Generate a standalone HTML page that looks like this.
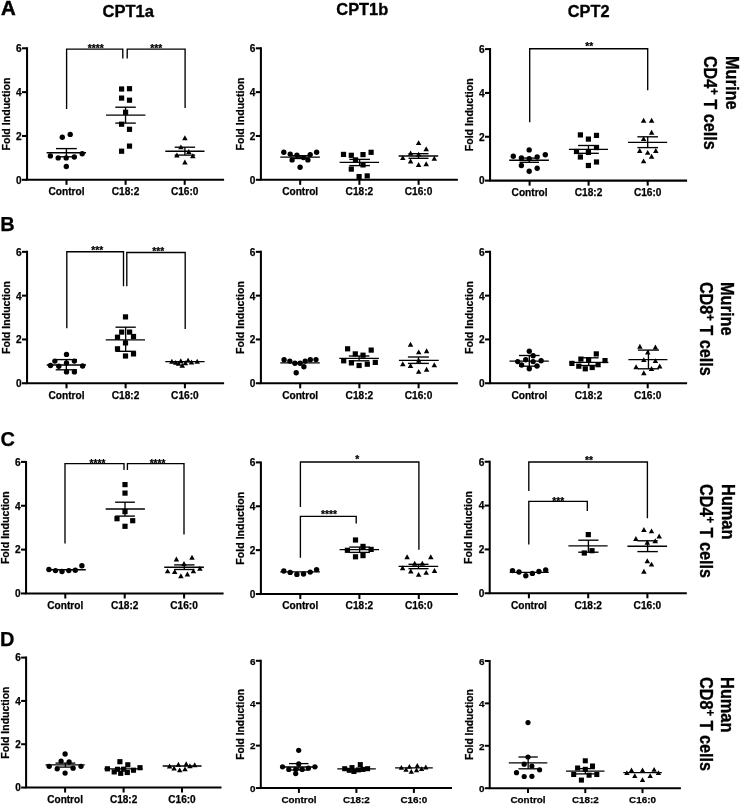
<!DOCTYPE html>
<html><head><meta charset="utf-8"><title>Figure</title>
<style>html,body{margin:0;padding:0;background:#fff}body{width:740px;height:804px;overflow:hidden}svg{display:block;filter:grayscale(1)}</style>
</head><body>
<svg width="740" height="804" viewBox="0 0 740 804">
<rect width="740" height="804" fill="#fff"/>
<g stroke="#000" fill="none" stroke-linecap="butt">
<path d="M27.05 47.27L27.05 179.8L224.1 179.8" stroke-width="2.05" stroke-linejoin="miter"/>
<path d="M22 179.8L27.05 179.8" stroke-width="2.05"/>
<path d="M22 135.97L27.05 135.97" stroke-width="2.05"/>
<path d="M22 92.13L27.05 92.13" stroke-width="2.05"/>
<path d="M22 48.3L27.05 48.3" stroke-width="2.05"/>
<path d="M66.5 179.8L66.5 184.85" stroke-width="2.05"/>
<path d="M125.6 179.8L125.6 184.85" stroke-width="2.05"/>
<path d="M184.7 179.8L184.7 184.85" stroke-width="2.05"/>
<path d="M46.6 152.7L86 152.7" stroke-width="1.35"/>
<path d="M56 148.6L76.8 148.6" stroke-width="1.35"/>
<path d="M56 156.8L76.8 156.8" stroke-width="1.35"/>
<path d="M66.4 148.6L66.4 156.8" stroke-width="1.35"/>
<path d="M106 115.1L145.4 115.1" stroke-width="1.35"/>
<path d="M115.3 107.2L135.8 107.2" stroke-width="1.35"/>
<path d="M115.3 123.1L135.8 123.1" stroke-width="1.35"/>
<path d="M125.55 107.2L125.55 123.1" stroke-width="1.35"/>
<path d="M165.3 151.2L204.5 151.2" stroke-width="1.35"/>
<path d="M174.7 147.2L195.1 147.2" stroke-width="1.35"/>
<path d="M174.7 155.1L195.1 155.1" stroke-width="1.35"/>
<path d="M184.9 147.2L184.9 155.1" stroke-width="1.35"/>
<path d="M66.6 108.9L66.6 49.1L122.8 49.1L122.8 58.4" stroke-width="1.35" stroke-linejoin="miter"/>
<path d="M127.2 58.4L127.2 49.1L185.1 49.1L185.1 108" stroke-width="1.35" stroke-linejoin="miter"/>
</g>
<g fill="#000">
<circle cx="62.3" cy="137.3" r="2.68"/>
<circle cx="70.2" cy="134.4" r="2.68"/>
<circle cx="50.4" cy="155.9" r="2.68"/>
<circle cx="58.2" cy="157.9" r="2.68"/>
<circle cx="66.2" cy="157.9" r="2.68"/>
<circle cx="74.3" cy="157" r="2.68"/>
<circle cx="82.2" cy="153.7" r="2.68"/>
<circle cx="66.3" cy="166.5" r="2.68"/>
<rect x="119" y="86.4" width="5.2" height="5.2"/>
<rect x="126.9" y="86.1" width="5.2" height="5.2"/>
<rect x="119" y="95.5" width="5.2" height="5.2"/>
<rect x="126.9" y="97.6" width="5.2" height="5.2"/>
<rect x="123" y="109.7" width="5.2" height="5.2"/>
<rect x="119" y="121.6" width="5.2" height="5.2"/>
<rect x="126.9" y="126.7" width="5.2" height="5.2"/>
<rect x="126.9" y="143.5" width="5.2" height="5.2"/>
<rect x="119" y="148.6" width="5.2" height="5.2"/>
<path d="M184.9 135.35L187.65 140.25L182.15 140.25Z"/>
<path d="M180.9 144.45L183.65 149.35L178.15 149.35Z"/>
<path d="M188.8 149.05L191.55 153.95L186.05 153.95Z"/>
<path d="M176.9 152.55L179.65 157.45L174.15 157.45Z"/>
<path d="M192.8 153.25L195.55 158.15L190.05 158.15Z"/>
<path d="M184.9 159.55L187.65 164.45L182.15 164.45Z"/>
</g>
<g font-family='"Liberation Sans", sans-serif' font-weight="700" fill="#000" stroke="#000" stroke-width="0.25" font-size="10.15">
<text x="21.65" y="183.65" text-anchor="end">0</text>
<text x="21.65" y="139.82" text-anchor="end">2</text>
<text x="21.65" y="95.99" text-anchor="end">4</text>
<text x="21.65" y="52.15" text-anchor="end">6</text>
<text x="66.5" y="195.05" text-anchor="middle">Control</text>
<text x="125.6" y="195.05" text-anchor="middle">C18:2</text>
<text x="184.7" y="195.05" text-anchor="middle">C16:0</text>
<text transform="translate(9.75 150.5) rotate(-90)" font-size="11.3" textLength="72.9" lengthAdjust="spacingAndGlyphs">Fold Induction</text>
<text x="95.7" y="52.4" font-size="10.2" text-anchor="middle">****</text>
<text x="156.2" y="52.4" font-size="10.2" text-anchor="middle">***</text>
</g>
<g stroke="#000" fill="none" stroke-linecap="butt">
<path d="M260.9 47.27L260.9 179.8L457.9 179.8" stroke-width="2.05" stroke-linejoin="miter"/>
<path d="M255.85 179.8L260.9 179.8" stroke-width="2.05"/>
<path d="M255.85 135.97L260.9 135.97" stroke-width="2.05"/>
<path d="M255.85 92.13L260.9 92.13" stroke-width="2.05"/>
<path d="M255.85 48.3L260.9 48.3" stroke-width="2.05"/>
<path d="M300.2 179.8L300.2 184.85" stroke-width="2.05"/>
<path d="M359.4 179.8L359.4 184.85" stroke-width="2.05"/>
<path d="M418.6 179.8L418.6 184.85" stroke-width="2.05"/>
<path d="M280.3 157.1L319.9 157.1" stroke-width="1.35"/>
<path d="M290 155.7L310 155.7" stroke-width="1.35"/>
<path d="M290 158.5L310 158.5" stroke-width="1.35"/>
<path d="M300 155.7L300 158.5" stroke-width="1.35"/>
<path d="M339.6 162.4L379.1 162.4" stroke-width="1.35"/>
<path d="M349.3 159.4L369.9 159.4" stroke-width="1.35"/>
<path d="M349.3 165.6L369.9 165.6" stroke-width="1.35"/>
<path d="M359.6 159.4L359.6 165.6" stroke-width="1.35"/>
<path d="M398.6 156L438.2 156" stroke-width="1.35"/>
<path d="M408.5 153.7L428.5 153.7" stroke-width="1.35"/>
<path d="M408.5 158.3L428.5 158.3" stroke-width="1.35"/>
<path d="M418.5 153.7L418.5 158.3" stroke-width="1.35"/>
</g>
<g fill="#000">
<circle cx="283.8" cy="152.3" r="2.68"/>
<circle cx="316.6" cy="152.3" r="2.68"/>
<circle cx="290.2" cy="154.1" r="2.68"/>
<circle cx="296.9" cy="155.3" r="2.68"/>
<circle cx="310.2" cy="154.6" r="2.68"/>
<circle cx="303.5" cy="157.6" r="2.68"/>
<circle cx="292.1" cy="159.9" r="2.68"/>
<circle cx="307.9" cy="159.9" r="2.68"/>
<circle cx="300.1" cy="167.2" r="2.68"/>
<rect x="340.9" y="151.8" width="5.2" height="5.2"/>
<rect x="348.7" y="152.7" width="5.2" height="5.2"/>
<rect x="360.4" y="152" width="5.2" height="5.2"/>
<rect x="368.5" y="149.7" width="5.2" height="5.2"/>
<rect x="352.9" y="157.3" width="5.2" height="5.2"/>
<rect x="360.4" y="162.3" width="5.2" height="5.2"/>
<rect x="348.7" y="166.5" width="5.2" height="5.2"/>
<rect x="356.5" y="174" width="5.2" height="5.2"/>
<rect x="364.6" y="173.3" width="5.2" height="5.2"/>
<path d="M418.6 140.15L421.35 145.05L415.85 145.05Z"/>
<path d="M426.2 146.35L428.95 151.25L423.45 151.25Z"/>
<path d="M410.6 150.55L413.35 155.45L407.85 155.45Z"/>
<path d="M418.6 151.65L421.35 156.55L415.85 156.55Z"/>
<path d="M402.8 155.15L405.55 160.05L400.05 160.05Z"/>
<path d="M434.3 155.85L437.05 160.75L431.55 160.75Z"/>
<path d="M410.6 158.55L413.35 163.45L407.85 163.45Z"/>
<path d="M418.6 162.05L421.35 166.95L415.85 166.95Z"/>
<path d="M426.2 161.35L428.95 166.25L423.45 166.25Z"/>
</g>
<g font-family='"Liberation Sans", sans-serif' font-weight="700" fill="#000" stroke="#000" stroke-width="0.25" font-size="10.15">
<text x="255.5" y="183.65" text-anchor="end">0</text>
<text x="255.5" y="139.82" text-anchor="end">2</text>
<text x="255.5" y="95.99" text-anchor="end">4</text>
<text x="255.5" y="52.15" text-anchor="end">6</text>
<text x="300.2" y="195.05" text-anchor="middle">Control</text>
<text x="359.4" y="195.05" text-anchor="middle">C18:2</text>
<text x="418.6" y="195.05" text-anchor="middle">C16:0</text>
<text transform="translate(243.6 150.5) rotate(-90)" font-size="11.3" textLength="72.9" lengthAdjust="spacingAndGlyphs">Fold Induction</text>
</g>
<g stroke="#000" fill="none" stroke-linecap="butt">
<path d="M490.05 48.08L490.05 180.6L687.1 180.6" stroke-width="2.05" stroke-linejoin="miter"/>
<path d="M485 180.6L490.05 180.6" stroke-width="2.05"/>
<path d="M485 136.77L490.05 136.77" stroke-width="2.05"/>
<path d="M485 92.93L490.05 92.93" stroke-width="2.05"/>
<path d="M485 49.1L490.05 49.1" stroke-width="2.05"/>
<path d="M529.6 180.6L529.6 185.65" stroke-width="2.05"/>
<path d="M588.6 180.6L588.6 185.65" stroke-width="2.05"/>
<path d="M647.7 180.6L647.7 185.65" stroke-width="2.05"/>
<path d="M509.2 160.2L548.9 160.2" stroke-width="1.35"/>
<path d="M519.5 158.1L539 158.1" stroke-width="1.35"/>
<path d="M519.5 162.3L539 162.3" stroke-width="1.35"/>
<path d="M529.25 158.1L529.25 162.3" stroke-width="1.35"/>
<path d="M568.9 149.4L608 149.4" stroke-width="1.35"/>
<path d="M578.1 145.5L598.8 145.5" stroke-width="1.35"/>
<path d="M578.1 153.3L598.8 153.3" stroke-width="1.35"/>
<path d="M588.45 145.5L588.45 153.3" stroke-width="1.35"/>
<path d="M628 142.3L667.2 142.3" stroke-width="1.35"/>
<path d="M637.4 136.8L658 136.8" stroke-width="1.35"/>
<path d="M637.4 147.6L658 147.6" stroke-width="1.35"/>
<path d="M647.7 136.8L647.7 147.6" stroke-width="1.35"/>
<path d="M529.7 122.2L529.7 48.7L647.7 48.7L647.7 90.2" stroke-width="1.35" stroke-linejoin="miter"/>
</g>
<g fill="#000">
<circle cx="529.2" cy="149.9" r="2.68"/>
<circle cx="545.3" cy="154.7" r="2.68"/>
<circle cx="513.3" cy="156.3" r="2.68"/>
<circle cx="521.4" cy="157.9" r="2.68"/>
<circle cx="537.2" cy="157" r="2.68"/>
<circle cx="529.2" cy="158.6" r="2.68"/>
<circle cx="521.4" cy="165.5" r="2.68"/>
<circle cx="529.2" cy="171.2" r="2.68"/>
<circle cx="537.2" cy="168.2" r="2.68"/>
<rect x="577.8" y="132.3" width="5.2" height="5.2"/>
<rect x="593.9" y="132.8" width="5.2" height="5.2"/>
<rect x="585.8" y="136.5" width="5.2" height="5.2"/>
<rect x="593.9" y="145" width="5.2" height="5.2"/>
<rect x="573.9" y="148.9" width="5.2" height="5.2"/>
<rect x="585.8" y="149.8" width="5.2" height="5.2"/>
<rect x="577.8" y="154.4" width="5.2" height="5.2"/>
<rect x="593.9" y="159.4" width="5.2" height="5.2"/>
<rect x="585.8" y="162.9" width="5.2" height="5.2"/>
<path d="M643.6 117.75L646.35 122.65L640.85 122.65Z"/>
<path d="M651.6 117.75L654.35 122.65L648.85 122.65Z"/>
<path d="M651.6 129.75L654.35 134.65L648.85 134.65Z"/>
<path d="M643.6 136.15L646.35 141.05L640.85 141.05Z"/>
<path d="M639.7 148.05L642.45 152.95L636.95 152.95Z"/>
<path d="M647.7 149.95L650.45 154.85L644.95 154.85Z"/>
<path d="M655.8 148.05L658.55 152.95L653.05 152.95Z"/>
<path d="M651.6 153.85L654.35 158.75L648.85 158.75Z"/>
<path d="M643.6 158.45L646.35 163.35L640.85 163.35Z"/>
</g>
<g font-family='"Liberation Sans", sans-serif' font-weight="700" fill="#000" stroke="#000" stroke-width="0.25" font-size="10.15">
<text x="484.65" y="184.45" text-anchor="end">0</text>
<text x="484.65" y="140.62" text-anchor="end">2</text>
<text x="484.65" y="96.79" text-anchor="end">4</text>
<text x="484.65" y="52.95" text-anchor="end">6</text>
<text x="529.6" y="195.85" text-anchor="middle">Control</text>
<text x="588.6" y="195.85" text-anchor="middle">C18:2</text>
<text x="647.7" y="195.85" text-anchor="middle">C16:0</text>
<text transform="translate(472.75 151.3) rotate(-90)" font-size="11.3" textLength="72.9" lengthAdjust="spacingAndGlyphs">Fold Induction</text>
<text x="589.3" y="49.8" font-size="10.2" text-anchor="middle">**</text>
</g>
<g stroke="#000" fill="none" stroke-linecap="butt">
<path d="M27.05 250.82L27.05 383.25L224.1 383.25" stroke-width="2.05" stroke-linejoin="miter"/>
<path d="M22 383.25L27.05 383.25" stroke-width="2.05"/>
<path d="M22 339.45L27.05 339.45" stroke-width="2.05"/>
<path d="M22 295.65L27.05 295.65" stroke-width="2.05"/>
<path d="M22 251.85L27.05 251.85" stroke-width="2.05"/>
<path d="M66.5 383.25L66.5 388.3" stroke-width="2.05"/>
<path d="M125.6 383.25L125.6 388.3" stroke-width="2.05"/>
<path d="M184.9 383.25L184.9 388.3" stroke-width="2.05"/>
<path d="M46.7 365L86 365" stroke-width="1.35"/>
<path d="M55.7 359.6L77 359.6" stroke-width="1.35"/>
<path d="M55.7 369.8L77 369.8" stroke-width="1.35"/>
<path d="M66.35 359.6L66.35 369.8" stroke-width="1.35"/>
<path d="M105.7 339.8L145 339.8" stroke-width="1.35"/>
<path d="M115.5 327.2L135.8 327.2" stroke-width="1.35"/>
<path d="M115.5 351.3L135.8 351.3" stroke-width="1.35"/>
<path d="M125.65 327.2L125.65 351.3" stroke-width="1.35"/>
<path d="M165.3 361.6L204.6 361.6" stroke-width="1.35"/>
<path d="M66.8 328.2L66.8 251.7L123.5 251.7L123.5 286.2" stroke-width="1.35" stroke-linejoin="miter"/>
<path d="M126.8 286.2L126.8 252.5L185.2 252.5L185.2 329" stroke-width="1.35" stroke-linejoin="miter"/>
</g>
<g fill="#000">
<circle cx="66.5" cy="354.4" r="2.68"/>
<circle cx="54.9" cy="361.1" r="2.68"/>
<circle cx="74.4" cy="361.1" r="2.68"/>
<circle cx="66.5" cy="362.9" r="2.68"/>
<circle cx="50.5" cy="365.5" r="2.68"/>
<circle cx="58.8" cy="366.2" r="2.68"/>
<circle cx="82.6" cy="366" r="2.68"/>
<circle cx="66.5" cy="371.9" r="2.68"/>
<circle cx="74.4" cy="371.9" r="2.68"/>
<rect x="122.9" y="314.3" width="5.2" height="5.2"/>
<rect x="119.1" y="329.5" width="5.2" height="5.2"/>
<rect x="127" y="329.5" width="5.2" height="5.2"/>
<rect x="114.9" y="334.6" width="5.2" height="5.2"/>
<rect x="130.9" y="333.9" width="5.2" height="5.2"/>
<rect x="122.9" y="340.3" width="5.2" height="5.2"/>
<rect x="114.9" y="346.2" width="5.2" height="5.2"/>
<rect x="130.9" y="351.3" width="5.2" height="5.2"/>
<rect x="122.9" y="353.4" width="5.2" height="5.2"/>
<path d="M171.9 358.85L174.65 363.75L169.15 363.75Z"/>
<path d="M175.7 359.95L178.45 364.85L172.95 364.85Z"/>
<path d="M180.8 358.35L183.55 363.25L178.05 363.25Z"/>
<path d="M178.5 360.75L181.25 365.65L175.75 365.65Z"/>
<path d="M182.2 362.75L184.95 367.65L179.45 367.65Z"/>
<path d="M185.4 360.35L188.15 365.25L182.65 365.25Z"/>
<path d="M188.1 357.65L190.85 362.55L185.35 362.55Z"/>
<path d="M191.5 359.55L194.25 364.45L188.75 364.45Z"/>
<path d="M197.2 358.85L199.95 363.75L194.45 363.75Z"/>
</g>
<g font-family='"Liberation Sans", sans-serif' font-weight="700" fill="#000" stroke="#000" stroke-width="0.25" font-size="10.15">
<text x="21.65" y="387.1" text-anchor="end">0</text>
<text x="21.65" y="343.3" text-anchor="end">2</text>
<text x="21.65" y="299.5" text-anchor="end">4</text>
<text x="21.65" y="255.7" text-anchor="end">6</text>
<text x="66.5" y="398.5" text-anchor="middle">Control</text>
<text x="125.6" y="398.5" text-anchor="middle">C18:2</text>
<text x="184.9" y="398.5" text-anchor="middle">C16:0</text>
<text transform="translate(9.75 354) rotate(-90)" font-size="11.3" textLength="72.9" lengthAdjust="spacingAndGlyphs">Fold Induction</text>
<text x="97.3" y="254.1" font-size="10.2" text-anchor="middle">***</text>
<text x="158.3" y="254.5" font-size="10.2" text-anchor="middle">***</text>
</g>
<g stroke="#000" fill="none" stroke-linecap="butt">
<path d="M260.9 250.82L260.9 383.25L457.9 383.25" stroke-width="2.05" stroke-linejoin="miter"/>
<path d="M255.85 383.25L260.9 383.25" stroke-width="2.05"/>
<path d="M255.85 339.45L260.9 339.45" stroke-width="2.05"/>
<path d="M255.85 295.65L260.9 295.65" stroke-width="2.05"/>
<path d="M255.85 251.85L260.9 251.85" stroke-width="2.05"/>
<path d="M300.2 383.25L300.2 388.3" stroke-width="2.05"/>
<path d="M359.4 383.25L359.4 388.3" stroke-width="2.05"/>
<path d="M418.6 383.25L418.6 388.3" stroke-width="2.05"/>
<path d="M280.3 362.9L319.8 362.9" stroke-width="1.35"/>
<path d="M339.3 358.3L378.9 358.3" stroke-width="1.35"/>
<path d="M348.8 356L369.4 356" stroke-width="1.35"/>
<path d="M348.8 360.8L369.4 360.8" stroke-width="1.35"/>
<path d="M359.1 356L359.1 360.8" stroke-width="1.35"/>
<path d="M398.9 360.3L438.7 360.3" stroke-width="1.35"/>
<path d="M407.9 357L428.9 357" stroke-width="1.35"/>
<path d="M407.9 363.4L428.9 363.4" stroke-width="1.35"/>
<path d="M418.4 357L418.4 363.4" stroke-width="1.35"/>
</g>
<g fill="#000">
<circle cx="284.1" cy="359.8" r="2.68"/>
<circle cx="289.8" cy="361.1" r="2.68"/>
<circle cx="294.9" cy="363.2" r="2.68"/>
<circle cx="300.1" cy="363.2" r="2.68"/>
<circle cx="305.2" cy="361.1" r="2.68"/>
<circle cx="310.3" cy="359.8" r="2.68"/>
<circle cx="316" cy="359.6" r="2.68"/>
<circle cx="303.9" cy="366.8" r="2.68"/>
<circle cx="296.2" cy="372.7" r="2.68"/>
<rect x="345" y="346.2" width="5.2" height="5.2"/>
<rect x="368.6" y="347.5" width="5.2" height="5.2"/>
<rect x="352.7" y="351.3" width="5.2" height="5.2"/>
<rect x="360.4" y="352.6" width="5.2" height="5.2"/>
<rect x="341.1" y="358.2" width="5.2" height="5.2"/>
<rect x="348.8" y="360.3" width="5.2" height="5.2"/>
<rect x="372.7" y="359.8" width="5.2" height="5.2"/>
<rect x="364.7" y="361.6" width="5.2" height="5.2"/>
<rect x="356.5" y="362.9" width="5.2" height="5.2"/>
<path d="M410.5 341.75L413.25 346.65L407.75 346.65Z"/>
<path d="M418.7 349.45L421.45 354.35L415.95 354.35Z"/>
<path d="M426.6 348.35L429.35 353.25L423.85 353.25Z"/>
<path d="M402.8 361.25L405.55 366.15L400.05 366.15Z"/>
<path d="M410.5 363.05L413.25 367.95L407.75 367.95Z"/>
<path d="M434.3 362.25L437.05 367.15L431.55 367.15Z"/>
<path d="M426.6 366.85L429.35 371.75L423.85 371.75Z"/>
<path d="M418.7 368.95L421.45 373.85L415.95 373.85Z"/>
<path d="M418.7 357.85L421.45 362.75L415.95 362.75Z"/>
</g>
<g font-family='"Liberation Sans", sans-serif' font-weight="700" fill="#000" stroke="#000" stroke-width="0.25" font-size="10.15">
<text x="255.5" y="387.1" text-anchor="end">0</text>
<text x="255.5" y="343.3" text-anchor="end">2</text>
<text x="255.5" y="299.5" text-anchor="end">4</text>
<text x="255.5" y="255.7" text-anchor="end">6</text>
<text x="300.2" y="398.5" text-anchor="middle">Control</text>
<text x="359.4" y="398.5" text-anchor="middle">C18:2</text>
<text x="418.6" y="398.5" text-anchor="middle">C16:0</text>
<text transform="translate(243.6 354) rotate(-90)" font-size="11.3" textLength="72.9" lengthAdjust="spacingAndGlyphs">Fold Induction</text>
</g>
<g stroke="#000" fill="none" stroke-linecap="butt">
<path d="M490.05 250.82L490.05 383.25L687.1 383.25" stroke-width="2.05" stroke-linejoin="miter"/>
<path d="M485 383.25L490.05 383.25" stroke-width="2.05"/>
<path d="M485 339.45L490.05 339.45" stroke-width="2.05"/>
<path d="M485 295.65L490.05 295.65" stroke-width="2.05"/>
<path d="M485 251.85L490.05 251.85" stroke-width="2.05"/>
<path d="M529.4 383.25L529.4 388.3" stroke-width="2.05"/>
<path d="M588.6 383.25L588.6 388.3" stroke-width="2.05"/>
<path d="M647.7 383.25L647.7 388.3" stroke-width="2.05"/>
<path d="M509.5 361.1L548.8 361.1" stroke-width="1.35"/>
<path d="M519 355.5L539.6 355.5" stroke-width="1.35"/>
<path d="M519 366.2L539.6 366.2" stroke-width="1.35"/>
<path d="M529.3 355.5L529.3 366.2" stroke-width="1.35"/>
<path d="M569.3 362.4L608.4 362.4" stroke-width="1.35"/>
<path d="M578.8 357.8L598.6 357.8" stroke-width="1.35"/>
<path d="M578.8 365.5L598.6 365.5" stroke-width="1.35"/>
<path d="M588.7 357.8L588.7 365.5" stroke-width="1.35"/>
<path d="M628.4 359.6L667.4 359.6" stroke-width="1.35"/>
<path d="M637.9 350.1L659 350.1" stroke-width="1.35"/>
<path d="M637.9 368.8L659 368.8" stroke-width="1.35"/>
<path d="M648.45 350.1L648.45 368.8" stroke-width="1.35"/>
</g>
<g fill="#000">
<circle cx="529.3" cy="351.3" r="2.68"/>
<circle cx="533.1" cy="355.7" r="2.68"/>
<circle cx="525.7" cy="359.8" r="2.68"/>
<circle cx="517.7" cy="361.6" r="2.68"/>
<circle cx="541.1" cy="360.8" r="2.68"/>
<circle cx="533.1" cy="361.6" r="2.68"/>
<circle cx="521.6" cy="365" r="2.68"/>
<circle cx="537" cy="366" r="2.68"/>
<circle cx="529.3" cy="368.8" r="2.68"/>
<rect x="593.7" y="351.3" width="5.2" height="5.2"/>
<rect x="578.3" y="356.5" width="5.2" height="5.2"/>
<rect x="586" y="357.2" width="5.2" height="5.2"/>
<rect x="602.4" y="358" width="5.2" height="5.2"/>
<rect x="569.3" y="360.8" width="5.2" height="5.2"/>
<rect x="595.5" y="362.1" width="5.2" height="5.2"/>
<rect x="576.2" y="363.6" width="5.2" height="5.2"/>
<rect x="589.6" y="364.9" width="5.2" height="5.2"/>
<rect x="582.7" y="366.2" width="5.2" height="5.2"/>
<path d="M639.9 343.75L642.65 348.65L637.15 348.65Z"/>
<path d="M655.4 344.55L658.15 349.45L652.65 349.45Z"/>
<path d="M647.7 349.65L650.45 354.55L644.95 354.55Z"/>
<path d="M643.8 357.15L646.55 362.05L641.05 362.05Z"/>
<path d="M655.4 358.15L658.15 363.05L652.65 363.05Z"/>
<path d="M659.7 363.55L662.45 368.45L656.95 368.45Z"/>
<path d="M636.1 364.35L638.85 369.25L633.35 369.25Z"/>
<path d="M651.5 366.05L654.25 370.95L648.75 370.95Z"/>
<path d="M643.8 370.25L646.55 375.15L641.05 375.15Z"/>
</g>
<g font-family='"Liberation Sans", sans-serif' font-weight="700" fill="#000" stroke="#000" stroke-width="0.25" font-size="10.15">
<text x="484.65" y="387.1" text-anchor="end">0</text>
<text x="484.65" y="343.3" text-anchor="end">2</text>
<text x="484.65" y="299.5" text-anchor="end">4</text>
<text x="484.65" y="255.7" text-anchor="end">6</text>
<text x="529.4" y="398.5" text-anchor="middle">Control</text>
<text x="588.6" y="398.5" text-anchor="middle">C18:2</text>
<text x="647.7" y="398.5" text-anchor="middle">C16:0</text>
<text transform="translate(472.75 354) rotate(-90)" font-size="11.3" textLength="72.9" lengthAdjust="spacingAndGlyphs">Fold Induction</text>
</g>
<g stroke="#000" fill="none" stroke-linecap="butt">
<path d="M26.05 460.88L26.05 593.45L223.6 593.45" stroke-width="2.05" stroke-linejoin="miter"/>
<path d="M21 593.45L26.05 593.45" stroke-width="2.05"/>
<path d="M21 549.6L26.05 549.6" stroke-width="2.05"/>
<path d="M21 505.75L26.05 505.75" stroke-width="2.05"/>
<path d="M21 461.9L26.05 461.9" stroke-width="2.05"/>
<path d="M65.3 593.45L65.3 598.5" stroke-width="2.05"/>
<path d="M124.7 593.45L124.7 598.5" stroke-width="2.05"/>
<path d="M184.1 593.45L184.1 598.5" stroke-width="2.05"/>
<path d="M47 569.7L85.8 569.7" stroke-width="1.35"/>
<path d="M105.7 509L144.9 509" stroke-width="1.35"/>
<path d="M115.1 502.2L134.9 502.2" stroke-width="1.35"/>
<path d="M115.1 516.1L134.9 516.1" stroke-width="1.35"/>
<path d="M125 502.2L125 516.1" stroke-width="1.35"/>
<path d="M164.2 567.2L203.9 567.2" stroke-width="1.35"/>
<path d="M174.1 564.9L194.5 564.9" stroke-width="1.35"/>
<path d="M174.1 569.5L194.5 569.5" stroke-width="1.35"/>
<path d="M184.3 564.9L184.3 569.5" stroke-width="1.35"/>
<path d="M65 543.6L65 463.6L124 463.6L124 469.9" stroke-width="1.35" stroke-linejoin="miter"/>
<path d="M127.4 469.9L127.4 463.6L184 463.6L184 534.6" stroke-width="1.35" stroke-linejoin="miter"/>
</g>
<g fill="#000">
<circle cx="48.9" cy="569.5" r="2.68"/>
<circle cx="55.5" cy="570.6" r="2.68"/>
<circle cx="62" cy="571.5" r="2.68"/>
<circle cx="68.8" cy="570.6" r="2.68"/>
<circle cx="75.3" cy="570.3" r="2.68"/>
<circle cx="81.9" cy="565.8" r="2.68"/>
<rect x="122.4" y="482" width="5.2" height="5.2"/>
<rect x="122.4" y="490.5" width="5.2" height="5.2"/>
<rect x="122.4" y="509" width="5.2" height="5.2"/>
<rect x="114.4" y="516.1" width="5.2" height="5.2"/>
<rect x="130.1" y="518.1" width="5.2" height="5.2"/>
<rect x="122.4" y="523.7" width="5.2" height="5.2"/>
<path d="M176.4 556.55L179.15 561.45L173.65 561.45Z"/>
<path d="M192 554.85L194.75 559.75L189.25 559.75Z"/>
<path d="M184 561.05L186.75 565.95L181.25 565.95Z"/>
<path d="M199.9 565.85L202.65 570.75L197.15 570.75Z"/>
<path d="M167.6 568.45L170.35 573.35L164.85 573.35Z"/>
<path d="M174.7 569.05L177.45 573.95L171.95 573.95Z"/>
<path d="M193.4 568.45L196.15 573.35L190.65 573.35Z"/>
<path d="M187.4 571.55L190.15 576.45L184.65 576.45Z"/>
<path d="M180.9 573.25L183.65 578.15L178.15 578.15Z"/>
</g>
<g font-family='"Liberation Sans", sans-serif' font-weight="700" fill="#000" stroke="#000" stroke-width="0.25" font-size="10.15">
<text x="20.65" y="597.3" text-anchor="end">0</text>
<text x="20.65" y="553.45" text-anchor="end">2</text>
<text x="20.65" y="509.6" text-anchor="end">4</text>
<text x="20.65" y="465.75" text-anchor="end">6</text>
<text x="65.3" y="608.7" text-anchor="middle">Control</text>
<text x="124.7" y="608.7" text-anchor="middle">C18:2</text>
<text x="184.1" y="608.7" text-anchor="middle">C16:0</text>
<text transform="translate(8.75 564.12) rotate(-90)" font-size="11.3" textLength="72.9" lengthAdjust="spacingAndGlyphs">Fold Induction</text>
<text x="97.5" y="467.3" font-size="10.2" text-anchor="middle">****</text>
<text x="157.6" y="466.6" font-size="10.2" text-anchor="middle">****</text>
</g>
<g stroke="#000" fill="none" stroke-linecap="butt">
<path d="M260.9 461.38L260.9 594L457.9 594" stroke-width="2.05" stroke-linejoin="miter"/>
<path d="M255.85 594L260.9 594" stroke-width="2.05"/>
<path d="M255.85 550.13L260.9 550.13" stroke-width="2.05"/>
<path d="M255.85 506.27L260.9 506.27" stroke-width="2.05"/>
<path d="M255.85 462.4L260.9 462.4" stroke-width="2.05"/>
<path d="M300.3 594L300.3 599.05" stroke-width="2.05"/>
<path d="M359.4 594L359.4 599.05" stroke-width="2.05"/>
<path d="M418.8 594L418.8 599.05" stroke-width="2.05"/>
<path d="M280.3 571.9L319.9 571.9" stroke-width="1.35"/>
<path d="M339.6 549.6L379.1 549.6" stroke-width="1.35"/>
<path d="M349.3 547.1L369.9 547.1" stroke-width="1.35"/>
<path d="M349.3 552.4L369.9 552.4" stroke-width="1.35"/>
<path d="M359.6 547.1L359.6 552.4" stroke-width="1.35"/>
<path d="M398.6 566.4L438.2 566.4" stroke-width="1.35"/>
<path d="M408.5 564.3L428.5 564.3" stroke-width="1.35"/>
<path d="M408.5 568.7L428.5 568.7" stroke-width="1.35"/>
<path d="M418.5 564.3L418.5 568.7" stroke-width="1.35"/>
<path d="M300.4 506.9L300.4 462L418.9 462L418.9 549.7" stroke-width="1.35" stroke-linejoin="miter"/>
<path d="M300.4 557.8L300.4 516.4L356.2 516.4L356.2 523.4" stroke-width="1.35" stroke-linejoin="miter"/>
</g>
<g fill="#000">
<circle cx="283.8" cy="571" r="2.68"/>
<circle cx="290.2" cy="572.4" r="2.68"/>
<circle cx="296.9" cy="574.4" r="2.68"/>
<circle cx="303.5" cy="574" r="2.68"/>
<circle cx="310.2" cy="572.1" r="2.68"/>
<circle cx="316.6" cy="569.6" r="2.68"/>
<rect x="352.9" y="537.4" width="5.2" height="5.2"/>
<rect x="360.4" y="543.8" width="5.2" height="5.2"/>
<rect x="344.8" y="547.7" width="5.2" height="5.2"/>
<rect x="368.5" y="546.8" width="5.2" height="5.2"/>
<rect x="352.9" y="554.2" width="5.2" height="5.2"/>
<rect x="360.4" y="553" width="5.2" height="5.2"/>
<path d="M407.1 554.35L409.85 559.25L404.35 559.25Z"/>
<path d="M430.8 554.35L433.55 559.25L428.05 559.25Z"/>
<path d="M414.7 560.75L417.45 565.65L411.95 565.65Z"/>
<path d="M422.3 560.75L425.05 565.65L419.55 565.65Z"/>
<path d="M402.6 565.35L405.35 570.25L399.85 570.25Z"/>
<path d="M434.5 568.05L437.25 572.95L431.75 572.95Z"/>
<path d="M410.8 568.55L413.55 573.45L408.05 573.45Z"/>
<path d="M426.2 569.95L428.95 574.85L423.45 574.85Z"/>
<path d="M418.6 571.95L421.35 576.85L415.85 576.85Z"/>
</g>
<g font-family='"Liberation Sans", sans-serif' font-weight="700" fill="#000" stroke="#000" stroke-width="0.25" font-size="10.15">
<text x="255.5" y="597.85" text-anchor="end">0</text>
<text x="255.5" y="553.99" text-anchor="end">2</text>
<text x="255.5" y="510.12" text-anchor="end">4</text>
<text x="255.5" y="466.25" text-anchor="end">6</text>
<text x="300.3" y="609.25" text-anchor="middle">Control</text>
<text x="359.4" y="609.25" text-anchor="middle">C18:2</text>
<text x="418.8" y="609.25" text-anchor="middle">C16:0</text>
<text transform="translate(243.6 564.65) rotate(-90)" font-size="11.3" textLength="72.9" lengthAdjust="spacingAndGlyphs">Fold Induction</text>
<text x="357.2" y="462.9" font-size="10.2" text-anchor="middle">*</text>
<text x="329" y="518.4" font-size="10.2" text-anchor="middle">****</text>
</g>
<g stroke="#000" fill="none" stroke-linecap="butt">
<path d="M489.7 460.73L489.7 593.25L686.8 593.25" stroke-width="2.05" stroke-linejoin="miter"/>
<path d="M484.65 593.25L489.7 593.25" stroke-width="2.05"/>
<path d="M484.65 549.42L489.7 549.42" stroke-width="2.05"/>
<path d="M484.65 505.58L489.7 505.58" stroke-width="2.05"/>
<path d="M484.65 461.75L489.7 461.75" stroke-width="2.05"/>
<path d="M528.9 593.25L528.9 598.3" stroke-width="2.05"/>
<path d="M588.2 593.25L588.2 598.3" stroke-width="2.05"/>
<path d="M647.4 593.25L647.4 598.3" stroke-width="2.05"/>
<path d="M509.7 572.3L548.8 572.3" stroke-width="1.35"/>
<path d="M568.4 545.9L607.6 545.9" stroke-width="1.35"/>
<path d="M578.3 540.2L598.5 540.2" stroke-width="1.35"/>
<path d="M578.3 552.2L598.5 552.2" stroke-width="1.35"/>
<path d="M588.4 540.2L588.4 552.2" stroke-width="1.35"/>
<path d="M627.4 546.2L667.1 546.2" stroke-width="1.35"/>
<path d="M637.4 540.8L657.8 540.8" stroke-width="1.35"/>
<path d="M637.4 551.6L657.8 551.6" stroke-width="1.35"/>
<path d="M647.6 540.8L647.6 551.6" stroke-width="1.35"/>
<path d="M528.8 491L528.8 462L647.4 462L647.4 518.3" stroke-width="1.35" stroke-linejoin="miter"/>
<path d="M528.8 544.5L528.8 501.3L587.3 501.3L587.3 511.1" stroke-width="1.35" stroke-linejoin="miter"/>
</g>
<g fill="#000">
<circle cx="512.5" cy="570.6" r="2.68"/>
<circle cx="519" cy="572" r="2.68"/>
<circle cx="525.8" cy="575.7" r="2.68"/>
<circle cx="532.4" cy="573.4" r="2.68"/>
<circle cx="538.9" cy="571.5" r="2.68"/>
<circle cx="545.7" cy="570" r="2.68"/>
<rect x="585.7" y="532" width="5.2" height="5.2"/>
<rect x="581.7" y="550.4" width="5.2" height="5.2"/>
<rect x="589.4" y="548.1" width="5.2" height="5.2"/>
<path d="M643.9 527.05L646.65 531.95L641.15 531.95Z"/>
<path d="M651.5 528.45L654.25 533.35L648.75 533.35Z"/>
<path d="M635.9 536.05L638.65 540.95L633.15 540.95Z"/>
<path d="M659.2 533.55L661.95 538.45L656.45 538.45Z"/>
<path d="M647.3 539.75L650.05 544.65L644.55 544.65Z"/>
<path d="M655.2 538.35L657.95 543.25L652.45 543.25Z"/>
<path d="M647.3 558.25L650.05 563.15L644.55 563.15Z"/>
<path d="M651.5 561.65L654.25 566.55L648.75 566.55Z"/>
<path d="M643.9 568.75L646.65 573.65L641.15 573.65Z"/>
</g>
<g font-family='"Liberation Sans", sans-serif' font-weight="700" fill="#000" stroke="#000" stroke-width="0.25" font-size="10.15">
<text x="484.3" y="597.1" text-anchor="end">0</text>
<text x="484.3" y="553.27" text-anchor="end">2</text>
<text x="484.3" y="509.44" text-anchor="end">4</text>
<text x="484.3" y="465.6" text-anchor="end">6</text>
<text x="528.9" y="608.5" text-anchor="middle">Control</text>
<text x="588.2" y="608.5" text-anchor="middle">C18:2</text>
<text x="647.4" y="608.5" text-anchor="middle">C16:0</text>
<text transform="translate(472.4 563.95) rotate(-90)" font-size="11.3" textLength="72.9" lengthAdjust="spacingAndGlyphs">Fold Induction</text>
<text x="589" y="463.8" font-size="10.2" text-anchor="middle">**</text>
<text x="558.3" y="504.6" font-size="10.2" text-anchor="middle">***</text>
</g>
<g stroke="#000" fill="none" stroke-linecap="butt">
<path d="M26.1 656.59L26.1 787.55L221.5 787.55" stroke-width="2.03" stroke-linejoin="miter"/>
<path d="M21.1 787.55L26.1 787.55" stroke-width="2.03"/>
<path d="M21.1 744.23L26.1 744.23" stroke-width="2.03"/>
<path d="M21.1 700.92L26.1 700.92" stroke-width="2.03"/>
<path d="M21.1 657.6L26.1 657.6" stroke-width="2.03"/>
<path d="M65.1 787.55L65.1 792.55" stroke-width="2.03"/>
<path d="M123.6 787.55L123.6 792.55" stroke-width="2.03"/>
<path d="M182 787.55L182 792.55" stroke-width="2.03"/>
<path d="M45.5 764.8L84.7 764.8" stroke-width="1.34"/>
<path d="M55.5 763.1L75.3 763.1" stroke-width="1.34"/>
<path d="M55.5 767.1L75.3 767.1" stroke-width="1.34"/>
<path d="M65.4 763.1L65.4 767.1" stroke-width="1.34"/>
<path d="M104.3 768.8L142.6 768.8" stroke-width="1.34"/>
<path d="M162.7 766L201.6 766" stroke-width="1.34"/>
</g>
<g fill="#000">
<circle cx="65.1" cy="754" r="2.65"/>
<circle cx="61.1" cy="761.1" r="2.65"/>
<circle cx="69.1" cy="762" r="2.65"/>
<circle cx="49.2" cy="766.3" r="2.65"/>
<circle cx="81" cy="766.3" r="2.65"/>
<circle cx="57.2" cy="768.8" r="2.65"/>
<circle cx="73.1" cy="768.2" r="2.65"/>
<circle cx="65.1" cy="773.1" r="2.65"/>
<rect x="117.33" y="759.13" width="5.15" height="5.15"/>
<rect x="125.23" y="762.23" width="5.15" height="5.15"/>
<rect x="137.43" y="765.13" width="5.15" height="5.15"/>
<rect x="104.83" y="766.23" width="5.15" height="5.15"/>
<rect x="130.93" y="767.63" width="5.15" height="5.15"/>
<rect x="111.63" y="769.33" width="5.15" height="5.15"/>
<rect x="124.73" y="769.93" width="5.15" height="5.15"/>
<rect x="118.13" y="770.73" width="5.15" height="5.15"/>
<rect x="115.03" y="766.73" width="5.15" height="5.15"/>
<rect x="121.03" y="766.63" width="5.15" height="5.15"/>
<path d="M169.6 763.57L172.32 768.43L166.88 768.43Z"/>
<path d="M178.4 761.87L181.12 766.73L175.68 766.73Z"/>
<path d="M186.2 761.27L188.92 766.13L183.48 766.13Z"/>
<path d="M194.7 762.37L197.42 767.23L191.98 767.23Z"/>
<path d="M174.1 765.57L176.82 770.43L171.38 770.43Z"/>
<path d="M179.7 767.47L182.42 772.33L176.98 772.33Z"/>
<path d="M185 766.47L187.72 771.33L182.28 771.33Z"/>
<path d="M189.9 763.37L192.62 768.23L187.18 768.23Z"/>
</g>
<g font-family='"Liberation Sans", sans-serif' font-weight="700" fill="#000" stroke="#000" stroke-width="0.25" font-size="10.05">
<text x="20.75" y="791.37" text-anchor="end">0</text>
<text x="20.75" y="748.05" text-anchor="end">2</text>
<text x="20.75" y="704.73" text-anchor="end">4</text>
<text x="20.75" y="661.42" text-anchor="end">6</text>
<text x="65.1" y="802.65" text-anchor="middle">Control</text>
<text x="123.6" y="802.65" text-anchor="middle">C18:2</text>
<text x="182" y="802.65" text-anchor="middle">C16:0</text>
<text transform="translate(8.97 758.66) rotate(-90)" font-size="11.19" textLength="72.17" lengthAdjust="spacingAndGlyphs">Fold Induction</text>
</g>
<g stroke="#000" fill="none" stroke-linecap="butt">
<path d="M260.8 659.81L260.8 788.05L452 788.05" stroke-width="1.99" stroke-linejoin="miter"/>
<path d="M255.9 788.05L260.8 788.05" stroke-width="1.99"/>
<path d="M255.9 745.63L260.8 745.63" stroke-width="1.99"/>
<path d="M255.9 703.22L260.8 703.22" stroke-width="1.99"/>
<path d="M255.9 660.8L260.8 660.8" stroke-width="1.99"/>
<path d="M298.9 788.05L298.9 792.95" stroke-width="1.99"/>
<path d="M356.4 788.05L356.4 792.95" stroke-width="1.99"/>
<path d="M413.9 788.05L413.9 792.95" stroke-width="1.99"/>
<path d="M280.3 767L317.5 767" stroke-width="1.31"/>
<path d="M289 763.6L308.5 763.6" stroke-width="1.31"/>
<path d="M289 770L308.5 770" stroke-width="1.31"/>
<path d="M298.75 763.6L298.75 770" stroke-width="1.31"/>
<path d="M337.3 768.8L375.8 768.8" stroke-width="1.31"/>
<path d="M395.1 767.8L432.8 767.8" stroke-width="1.31"/>
</g>
<g fill="#000">
<circle cx="298.7" cy="750.3" r="2.6"/>
<circle cx="298.7" cy="763.9" r="2.6"/>
<circle cx="282.5" cy="766.8" r="2.6"/>
<circle cx="314.9" cy="766.8" r="2.6"/>
<circle cx="288.8" cy="769.4" r="2.6"/>
<circle cx="295.7" cy="769.4" r="2.6"/>
<circle cx="302.2" cy="769.4" r="2.6"/>
<circle cx="308.4" cy="768.2" r="2.6"/>
<circle cx="295.7" cy="773.6" r="2.6"/>
<rect x="357.78" y="762.08" width="5.04" height="5.04"/>
<rect x="349.48" y="765.08" width="5.04" height="5.04"/>
<rect x="342.18" y="766.18" width="5.04" height="5.04"/>
<rect x="365.08" y="766.18" width="5.04" height="5.04"/>
<rect x="346.78" y="767.78" width="5.04" height="5.04"/>
<rect x="360.48" y="766.88" width="5.04" height="5.04"/>
<rect x="355.88" y="767.38" width="5.04" height="5.04"/>
<rect x="351.38" y="768.98" width="5.04" height="5.04"/>
<path d="M401.4 765.02L404.07 769.78L398.73 769.78Z"/>
<path d="M409.4 764.02L412.07 768.78L406.73 768.78Z"/>
<path d="M417.3 762.92L419.97 767.68L414.63 767.68Z"/>
<path d="M425.8 764.62L428.47 769.38L423.13 769.38Z"/>
<path d="M406 767.02L408.67 771.78L403.33 771.78Z"/>
<path d="M411.3 769.02L413.97 773.78L408.63 773.78Z"/>
<path d="M416.6 767.52L419.27 772.28L413.93 772.28Z"/>
<path d="M421.6 766.32L424.27 771.08L418.93 771.08Z"/>
</g>
<g font-family='"Liberation Sans", sans-serif' font-weight="700" fill="#000" stroke="#000" stroke-width="0.25" font-size="9.85">
<text x="255.56" y="791.79" text-anchor="end">0</text>
<text x="255.56" y="749.38" text-anchor="end">2</text>
<text x="255.56" y="706.96" text-anchor="end">4</text>
<text x="255.56" y="664.54" text-anchor="end">6</text>
<text x="298.9" y="802.84" text-anchor="middle">Control</text>
<text x="356.4" y="802.84" text-anchor="middle">C18:2</text>
<text x="413.9" y="802.84" text-anchor="middle">C16:0</text>
<text transform="translate(244.02 759.78) rotate(-90)" font-size="10.96" textLength="70.71" lengthAdjust="spacingAndGlyphs">Fold Induction</text>
</g>
<g stroke="#000" fill="none" stroke-linecap="butt">
<path d="M489.7 659.96L489.7 788.2L680.9 788.2" stroke-width="1.99" stroke-linejoin="miter"/>
<path d="M484.8 788.2L489.7 788.2" stroke-width="1.99"/>
<path d="M484.8 745.78L489.7 745.78" stroke-width="1.99"/>
<path d="M484.8 703.37L489.7 703.37" stroke-width="1.99"/>
<path d="M484.8 660.95L489.7 660.95" stroke-width="1.99"/>
<path d="M528 788.2L528 793.1" stroke-width="1.99"/>
<path d="M585.3 788.2L585.3 793.1" stroke-width="1.99"/>
<path d="M642.5 788.2L642.5 793.1" stroke-width="1.99"/>
<path d="M508.8 762.9L547.3 762.9" stroke-width="1.31"/>
<path d="M518.5 757L537.8 757" stroke-width="1.31"/>
<path d="M518.5 768.8L537.8 768.8" stroke-width="1.31"/>
<path d="M528.15 757L528.15 768.8" stroke-width="1.31"/>
<path d="M566 771.1L604.5 771.1" stroke-width="1.31"/>
<path d="M575.8 768.6L594.8 768.6" stroke-width="1.31"/>
<path d="M575.8 773.9L594.8 773.9" stroke-width="1.31"/>
<path d="M585.3 768.6L585.3 773.9" stroke-width="1.31"/>
<path d="M623.3 772.7L661.8 772.7" stroke-width="1.31"/>
</g>
<g fill="#000">
<circle cx="528" cy="722.6" r="2.6"/>
<circle cx="528" cy="757" r="2.6"/>
<circle cx="524.2" cy="764.2" r="2.6"/>
<circle cx="531.9" cy="766" r="2.6"/>
<circle cx="539.6" cy="769.8" r="2.6"/>
<circle cx="516.5" cy="772.7" r="2.6"/>
<circle cx="524.2" cy="776.5" r="2.6"/>
<circle cx="531.9" cy="776.3" r="2.6"/>
<rect x="582.78" y="758.28" width="5.04" height="5.04"/>
<rect x="575.08" y="765.48" width="5.04" height="5.04"/>
<rect x="589.98" y="763.48" width="5.04" height="5.04"/>
<rect x="582.78" y="766.78" width="5.04" height="5.04"/>
<rect x="571.18" y="771.98" width="5.04" height="5.04"/>
<rect x="594.28" y="771.98" width="5.04" height="5.04"/>
<rect x="586.58" y="772.68" width="5.04" height="5.04"/>
<rect x="578.88" y="777.58" width="5.04" height="5.04"/>
<path d="M631.5 767.42L634.17 772.18L628.83 772.18Z"/>
<path d="M642.5 767.42L645.17 772.18L639.83 772.18Z"/>
<path d="M654.1 766.92L656.77 771.68L651.43 771.68Z"/>
<path d="M626.9 770.32L629.57 775.08L624.23 775.08Z"/>
<path d="M658.4 770.32L661.07 775.08L655.73 775.08Z"/>
<path d="M634.8 773.32L637.47 778.08L632.13 778.08Z"/>
<path d="M650.2 773.32L652.87 778.08L647.53 778.08Z"/>
<path d="M642.5 777.22L645.17 781.98L639.83 781.98Z"/>
</g>
<g font-family='"Liberation Sans", sans-serif' font-weight="700" fill="#000" stroke="#000" stroke-width="0.25" font-size="9.85">
<text x="484.46" y="791.94" text-anchor="end">0</text>
<text x="484.46" y="749.53" text-anchor="end">2</text>
<text x="484.46" y="707.11" text-anchor="end">4</text>
<text x="484.46" y="664.69" text-anchor="end">6</text>
<text x="528" y="802.99" text-anchor="middle">Control</text>
<text x="585.3" y="802.99" text-anchor="middle">C18:2</text>
<text x="642.5" y="802.99" text-anchor="middle">C16:0</text>
<text transform="translate(472.92 759.93) rotate(-90)" font-size="10.96" textLength="70.71" lengthAdjust="spacingAndGlyphs">Fold Induction</text>
</g>
<g font-family='"Liberation Sans", sans-serif' font-weight="700" fill="#000">
<text x="102.5" y="17.4" font-size="17.4" textLength="51.4" lengthAdjust="spacingAndGlyphs" stroke="#000" stroke-width="0.35">CPT1a</text>
<text x="336.3" y="15.4" font-size="17.3" textLength="51.9" lengthAdjust="spacingAndGlyphs" stroke="#000" stroke-width="0.35">CPT1b</text>
<text x="567.8" y="16.8" font-size="17.4" textLength="41.7" lengthAdjust="spacingAndGlyphs" stroke="#000" stroke-width="0.35">CPT2</text>
<text x="1" y="15" font-size="20.4" stroke="#000" stroke-width="0.5">A</text>
<text x="0.2" y="231" font-size="20.0" stroke="#000" stroke-width="0.25">B</text>
<text x="0.4" y="446" font-size="20.0" stroke="#000" stroke-width="0.25">C</text>
<text x="0.1" y="646" font-size="20.0" stroke="#000" stroke-width="0.25">D</text>
<text transform="translate(725.7 55.9) rotate(90)" font-size="17.8" textLength="53.7" lengthAdjust="spacingAndGlyphs" stroke="#000" stroke-width="0.35">Murine</text>
<text transform="translate(704.1 55.9) rotate(90)" font-size="17.8" textLength="94" lengthAdjust="spacingAndGlyphs" stroke="#000" stroke-width="0.35">CD4<tspan font-size="12.1" dy="-6.05">+</tspan><tspan dy="6.05"> T cells</tspan></text>
<text transform="translate(721.2 281.9) rotate(90)" font-size="17.8" textLength="53.7" lengthAdjust="spacingAndGlyphs" stroke="#000" stroke-width="0.35">Murine</text>
<text transform="translate(699.8 281.9) rotate(90)" font-size="17.8" textLength="94" lengthAdjust="spacingAndGlyphs" stroke="#000" stroke-width="0.35">CD8<tspan font-size="12.1" dy="-6.05">+</tspan><tspan dy="6.05"> T cells</tspan></text>
<text transform="translate(721.6 484.1) rotate(90)" font-size="17.8" textLength="55.3" lengthAdjust="spacingAndGlyphs" stroke="#000" stroke-width="0.35">Human</text>
<text transform="translate(700.2 484.1) rotate(90)" font-size="17.8" textLength="94" lengthAdjust="spacingAndGlyphs" stroke="#000" stroke-width="0.35">CD4<tspan font-size="12.1" dy="-6.05">+</tspan><tspan dy="6.05"> T cells</tspan></text>
<text transform="translate(721.2 677.1) rotate(90)" font-size="17.8" textLength="55.3" lengthAdjust="spacingAndGlyphs" stroke="#000" stroke-width="0.35">Human</text>
<text transform="translate(699.8 677.1) rotate(90)" font-size="17.8" textLength="94" lengthAdjust="spacingAndGlyphs" stroke="#000" stroke-width="0.35">CD8<tspan font-size="12.1" dy="-6.05">+</tspan><tspan dy="6.05"> T cells</tspan></text>
</g>
</svg></body></html>
